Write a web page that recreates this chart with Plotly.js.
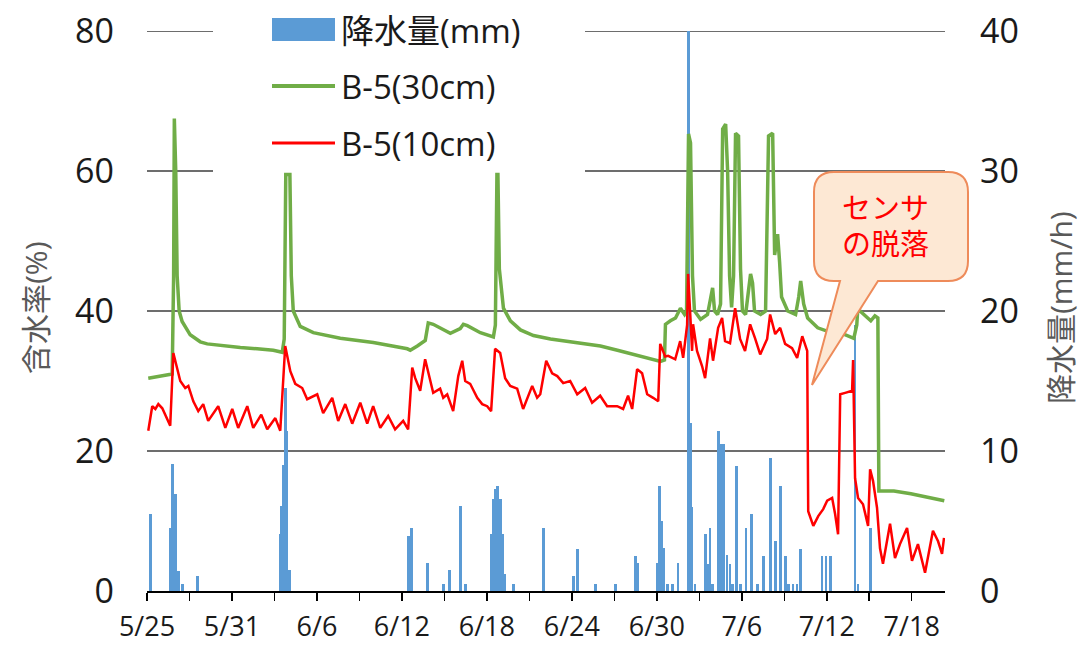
<!DOCTYPE html>
<html>
<head>
<meta charset="utf-8">
<script src="https://cdn.plot.ly/plotly-3.0.1.min.js"></script>
<style>html,body{margin:0;padding:0;background:#fff;}#chart{width:1081px;height:645px;}</style>
</head>
<body>
<div id="chart"></div>
<script>
// x values are days elapsed since 5/25
const tickVals = [0, 6, 12, 18, 24, 30, 36, 42, 48, 54];
const tickLabels = ['5/25', '5/31', '6/6', '6/12', '6/18', '6/24', '6/30', '7/6', '7/12', '7/18'];
const leftTicks = [0, 20, 40, 60, 80];
const rightTicks = [0, 10, 20, 30, 40];

// 降水量 (mm/h)
const rainDays = [0.23,1.64,1.79,2.00,2.21,2.49,3.55,9.41,9.50,9.65,9.76,9.88,10.07,18.44,18.66,19.79,20.92,21.34,22.12,22.47,24.30,24.44,24.59,24.73,24.94,25.08,25.22,25.86,27.98,30.10,30.38,31.65,33.06,34.47,34.61,36.03,36.17,36.31,36.45,36.73,37.08,37.50,38.21,38.35,38.49,39.41,39.55,39.76,40.33,40.47,40.68,40.96,41.17,41.60,41.88,42.30,42.66,43.51,44.00,44.36,44.71,45.06,45.62,46.12,47.67,47.95,48.24,50.00,50.21,51.06,38.70,39.95,41.35,43.10,45.30,45.90];
const rainVals = [5.5,4.5,9.1,6.9,1.4,0.5,1.1,4.1,6.1,9,14.5,11.4,1.5,3.9,4.5,2.0,0.5,1.5,6.1,0.5,4.1,6.6,7.3,7.5,6.6,4.1,1.2,0.5,4.5,1.1,3.0,0.5,0.5,2.5,2.0,2.0,7.5,5,3.1,0.5,0.5,2.0,40,12,6,4.1,1.9,4.5,11.4,10.5,10.5,2.6,1.9,8.9,0.5,4.5,5.5,2.5,9.5,3.6,7.5,2.5,0.5,3.0,2.5,2.5,2.5,19,0.5,4.5,0.5,0.5,0.5,0.5,0.5,0.5];

// B-5(30cm) 含水率 (%)
const b30Days = [0.09,0.58,1.29,1.78,1.88,1.93,2.03,2.13,2.27,2.48,3.05,3.76,4.25,5.38,6.59,7.78,8.92,9.55,9.69,9.80,10.09,10.19,10.33,10.82,11.74,13.65,15.98,18.38,18.59,19.09,19.65,19.86,20.21,21.42,22.12,22.34,22.62,23.54,24.46,24.60,24.71,24.78,24.88,25.17,25.66,26.37,27.29,28.49,29.69,30.82,32.02,33.22,34.35,35.55,36.26,36.54,36.61,36.96,37.32,37.67,37.96,38.10,38.24,38.38,38.52,38.66,39.09,39.58,39.80,39.94,40.08,40.29,40.50,40.65,40.86,41.00,41.14,41.28,41.42,41.56,41.77,41.91,42.05,42.27,42.48,42.62,42.76,42.90,43.33,43.68,43.89,44.18,44.32,44.53,44.67,44.81,45.24,45.80,46.02,46.16,46.37,46.65,47.36,48.07,49.20,49.91,50.12,50.19,50.62,51.11,51.40,51.61,51.68,52.74,53.94,55.14,56.30];
const b30Vals = [30.4,30.6,30.8,31.0,45,67.5,60,45,40,38.5,36.6,35.6,35.3,35.0,34.8,34.6,34.4,34.1,36,59.5,59.5,45,40,37.8,36.9,36.1,35.5,34.6,34.4,35,35.8,38.3,38.1,36.8,37.5,38.1,37.9,36.9,36.3,38,59.5,59.5,46,40.4,38.6,37.3,36.5,36.0,35.7,35.4,35.0,34.4,33.8,33.1,32.8,33,38.1,38.6,39,40.4,39.5,40,65.3,64,45,40,38.8,39.5,42,43.3,40,39.5,41,66,66.7,60,45,40.5,45,65.4,65,46,40,39.5,43,45.3,44,40,39.5,40,65,65.4,48,51,47,42,40,39.5,42,44.3,41,39,37.6,37.1,36.7,36.1,38,40.3,39.5,38.6,39.3,39,14.3,14.3,13.9,13.4,12.9];

// B-5(10cm) 含水率 (%)
const b10Days = [0.09,0.37,0.59,0.80,1.08,1.29,1.64,1.86,2.14,2.35,2.70,2.92,3.27,3.62,3.97,4.32,5.03,5.53,6.02,6.44,7.08,7.50,8.07,8.49,9.06,9.41,9.76,10.12,10.47,10.96,11.31,12.02,12.44,13.08,13.50,14.00,14.49,15.06,15.55,15.97,16.47,17.03,17.52,18.09,18.44,18.73,18.94,19.29,19.64,20.00,20.21,20.70,20.92,21.20,21.62,21.98,22.26,22.47,22.82,23.32,23.67,24.02,24.30,24.58,24.94,25.29,25.65,26.14,26.56,27.20,27.55,27.77,28.19,28.61,28.97,29.39,29.88,30.38,30.94,31.43,32.00,32.49,33.20,33.62,33.97,34.26,34.61,34.96,35.32,35.74,36.10,36.24,36.59,36.80,37.30,37.65,37.86,38.14,38.21,38.35,38.49,38.56,38.84,39.20,39.41,39.76,39.97,40.33,40.61,40.82,41.17,41.53,41.88,42.23,42.59,42.94,43.30,43.79,44.00,44.36,44.71,45.06,45.55,45.91,46.27,46.62,46.69,47.05,47.40,47.75,48.03,48.38,48.59,48.80,48.95,49.30,49.79,49.86,50.00,50.21,50.56,50.92,51.06,51.27,51.55,51.76,51.97,52.47,52.82,53.17,53.67,54.02,54.44,54.94,55.29,55.50,55.86,56.14,56.28];
const b10Vals = [22.9,26.4,26.0,26.7,26.1,25.2,23.6,34.0,31.7,30.0,29.0,29.3,27.1,25.7,26.7,24.3,26.4,23.3,26.0,23.3,26.4,23.3,25.2,23.1,24.7,22.9,35.0,31.4,29.6,29.0,27.4,28.1,25.4,27.6,24.3,26.7,23.9,26.9,23.9,26.4,23.3,25.0,23.1,24.3,23.1,31.9,30.4,28.6,33.1,30.0,28.3,28.9,27.6,28.1,25.7,30.7,32.9,30.0,29.6,27.6,26.7,26.4,25.7,34.6,34.0,30.4,29.3,28.9,26.0,29.3,27.6,28.1,32.9,31.1,30.7,29.7,30.0,28.1,29.0,26.9,27.9,26.4,26.4,26.0,27.9,26.0,31.7,31.1,28.1,27.6,27.1,35.3,33.5,33.6,33.1,35.7,33.3,38.0,45.3,40.0,34.3,38.1,34.3,32.1,30.4,36.1,32.9,37.6,39.0,35.7,35.4,40.4,36.0,34.3,38.1,36.1,33.8,36.0,39.5,36.7,37.6,35.3,34.7,33.3,36.4,34.3,11.4,9.3,10.7,11.7,12.9,13.3,11.0,8.1,28.1,28.3,28.6,33.0,16.1,13.3,12.4,9.3,17.4,15.7,11.9,6.1,3.9,9.6,4.7,6.7,9.0,4.3,6.7,2.6,6.7,8.6,7.1,5.3,7.6];

// ---- page geometry helpers (pixel -> paper) ----
const W = 1081, H = 645, ML = 147, MR = 136, MT = 31, MB = 54;
const PW = W - ML - MR, PH = H - MT - MB;
const px = x => (x - ML) / PW;
const py = y => (H - MB - y) / PH;
const P = (x, y) => px(x).toFixed(5) + ',' + py(y).toFixed(5);

const FONT = 'Open Sans, "Noto Sans CJK JP", sans-serif';
const JFONT = '"Liberation Sans", "Noto Sans CJK JP", sans-serif';

const traces = [
  {type: 'bar', name: '降水量(mm)', x: rainDays, y: rainVals, width: 0.2,
   marker: {color: '#5B9BD5', line: {width: 0}}, xaxis: 'x', yaxis: 'y'},
  {type: 'scatter', mode: 'lines', name: 'B-5(30cm)', x: b30Days, y: b30Vals,
   line: {color: '#70AD47', width: 3.5}, xaxis: 'x', yaxis: 'y2'},
  {type: 'scatter', mode: 'lines', name: 'B-5(10cm)', x: b10Days, y: b10Vals,
   line: {color: '#FF0000', width: 2.5}, xaxis: 'x', yaxis: 'y2'}
];

// horizontal gridlines (interrupted behind the legend box at 60 and 80)
const gridShapes = [];
leftTicks.filter(v => v > 0).forEach(v => {
  const segs = v >= 60 ? [[0, px(213)], [px(585), 1]] : [[0, 1]];
  segs.forEach(s => gridShapes.push({type: 'line', xref: 'paper', yref: 'y2', x0: s[0], x1: s[1], y0: v, y1: v,
    line: {color: '#3c3c3c', width: 1.3}, layer: 'below'}));
});

// callout path
const L = 814, R = 968, T = 172, B = 281, r = 20;
const callout = 'M' + P(L + r, T) + ' L' + P(R - r, T) + ' Q' + P(R, T) + ' ' + P(R, T + r) +
  ' L' + P(R, B - r) + ' Q' + P(R, B) + ' ' + P(R - r, B) + ' L' + P(878, B) + ' L' + P(812, 385) +
  ' L' + P(840, B) + ' L' + P(L + r, B) + ' Q' + P(L, B) + ' ' + P(L, B - r) + ' L' + P(L, T + r) +
  ' Q' + P(L, T) + ' ' + P(L + r, T) + ' Z';

const shapes = gridShapes.concat([
  {type: 'rect', xref: 'paper', yref: 'paper', x0: px(272), x1: px(335), y0: py(41), y1: py(18),
   fillcolor: '#5B9BD5', line: {width: 0}, layer: 'above'},
  {type: 'line', xref: 'paper', yref: 'paper', x0: px(272), x1: px(335), y0: py(86), y1: py(86),
   line: {color: '#70AD47', width: 4}, layer: 'above'},
  {type: 'line', xref: 'paper', yref: 'paper', x0: px(272), x1: px(335), y0: py(143), y1: py(143),
   line: {color: '#FF0000', width: 3}, layer: 'above'},
  {type: 'path', xref: 'paper', yref: 'paper', path: callout,
   fillcolor: '#FDE8D4', line: {color: '#EE8B5A', width: 2}, layer: 'above'}
]);

const ann = (text, x, y, opts) => Object.assign({text: text, xref: 'paper', yref: 'paper', x: px(x), y: py(y),
  showarrow: false, xanchor: 'left', yanchor: 'middle'}, opts || {});

const annotations = [
  ann('降水量(mm)', 339, 30, {font: {family: FONT, size: 33, color: '#1a1a1a'}}),
  ann('B-5(30cm)', 339, 86, {font: {family: FONT, size: 33, color: '#1a1a1a'}}),
  ann('B-5(10cm)', 339, 144, {font: {family: FONT, size: 33, color: '#1a1a1a'}}),
  ann('センサ', 885, 209, {xanchor: 'center', borderpad: 0, font: {family: JFONT, size: 29, color: '#FF0000'}}),
  ann('の脱落', 885, 245, {xanchor: 'center', borderpad: 0, font: {family: JFONT, size: 29, color: '#FF0000'}}),
  ann('含水率(%)', 35, 308, {xanchor: 'center', textangle: -90, font: {family: FONT, size: 30, color: '#595959'}}),
  ann('降水量(mm/h)', 1060, 308, {xanchor: 'center', textangle: -90, font: {family: FONT, size: 30, color: '#595959'}})
];

const layout = {
  width: W, height: H,
  margin: {l: ML, r: MR, t: MT, b: MB, pad: 0},
  paper_bgcolor: '#ffffff', plot_bgcolor: '#ffffff',
  showlegend: false, bargap: 0,
  font: {family: FONT, color: '#1a1a1a'},
  xaxis: {range: [0, 56.35], tickmode: 'array', tickvals: tickVals, ticktext: tickLabels,
    ticks: 'outside', ticklen: 8, tickwidth: 1.5, tickcolor: '#000',
    showline: true, linecolor: '#000', linewidth: 2, showgrid: false, zeroline: false,
    tickfont: {family: FONT, size: 27, color: '#1a1a1a'}, ticklabelstandoff: 3,
    minor: {tickmode: 'linear', tick0: 0, dtick: 3, ticks: 'outside', ticklen: 8, tickwidth: 1.5, tickcolor: '#000', showgrid: false}},
  yaxis: {range: [0, 40], side: 'right', tickmode: 'array', tickvals: rightTicks,
    showgrid: false, zeroline: false, showline: false, ticks: '',
    tickfont: {family: FONT, size: 34, color: '#1a1a1a'}, ticklabelstandoff: 34},
  yaxis2: {range: [0, 80], side: 'left', overlaying: 'y', tickmode: 'array', tickvals: leftTicks,
    showgrid: false, zeroline: false, showline: false, ticks: '',
    tickfont: {family: FONT, size: 34, color: '#1a1a1a'}, ticklabelstandoff: 32},
  shapes: shapes,
  annotations: annotations
};

Plotly.newPlot('chart', traces, layout, {staticPlot: true, displayModeBar: false});
</script>
</body>
</html>
